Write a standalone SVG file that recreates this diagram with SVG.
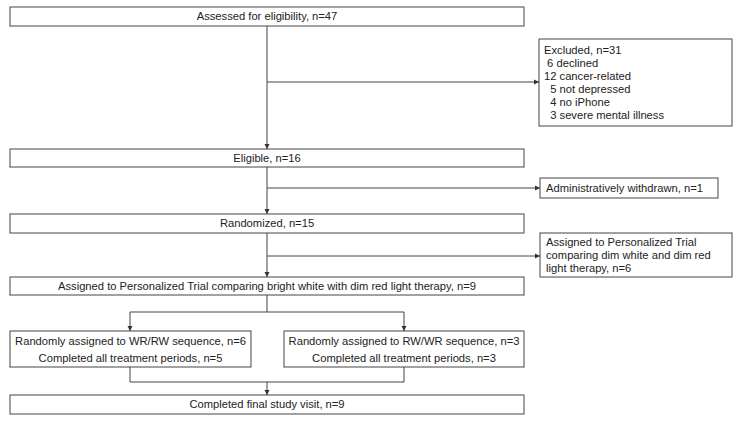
<svg xmlns="http://www.w3.org/2000/svg" width="735" height="423" viewBox="0 0 735 423">
<defs>
<marker id="arr" markerUnits="userSpaceOnUse" markerWidth="6" markerHeight="6" refX="5" refY="3" orient="auto">
<path d="M0,0.5 L5,3 L0,5.5 z" fill="#333"/>
</marker>
<style>
.box{fill:#fff;stroke:#444;stroke-width:1}
.t{font-family:"Liberation Sans",Arial,sans-serif;font-size:11.2px;fill:#222}
.c{text-anchor:middle}
.ln{fill:none;stroke:#444;stroke-width:1}
.a{marker-end:url(#arr)}
</style>
</defs>
<rect width="735" height="423" fill="#fff"/>
<g id="connectors">
<line class="ln a" x1="267" y1="26" x2="267" y2="149"/>
<line class="ln a" x1="267" y1="82" x2="539" y2="82"/>
<line class="ln a" x1="267" y1="167" x2="267" y2="214"/>
<line class="ln a" x1="267" y1="188" x2="540" y2="188"/>
<line class="ln a" x1="267" y1="233" x2="267" y2="277"/>
<line class="ln a" x1="267" y1="256" x2="540" y2="256"/>
<line class="ln" x1="267" y1="295" x2="267" y2="312"/>
<line class="ln" x1="130" y1="312" x2="404" y2="312"/>
<line class="ln a" x1="130" y1="312" x2="130" y2="331"/>
<line class="ln a" x1="404" y1="312" x2="404" y2="331"/>
<line class="ln" x1="130" y1="367" x2="130" y2="382"/>
<line class="ln" x1="404" y1="367" x2="404" y2="382"/>
<line class="ln" x1="130" y1="382" x2="404" y2="382"/>
<line class="ln a" x1="267" y1="382" x2="267" y2="395"/>
</g>
<g id="assessed">
<rect class="box" x="10" y="7" width="514" height="19"/>
<text class="t c" x="267" y="20">Assessed for eligibility, n=47</text>
</g>
<g id="excluded">
<rect class="box" x="539" y="39" width="193" height="87"/>
<text class="t" x="544" y="54">Excluded, n=31</text>
<text class="t" x="544" y="67" xml:space="preserve"> 6 declined</text>
<text class="t" x="544" y="80">12 cancer-related</text>
<text class="t" x="544" y="93" xml:space="preserve">  5 not depressed</text>
<text class="t" x="544" y="106" xml:space="preserve">  4 no iPhone</text>
<text class="t" x="544" y="119" xml:space="preserve">  3 severe mental illness</text>
</g>
<g id="eligible">
<rect class="box" x="10" y="149" width="514" height="18"/>
<text class="t c" x="267" y="162">Eligible, n=16</text>
</g>
<g id="withdrawn">
<rect class="box" x="540" y="178" width="178" height="20"/>
<text class="t" x="546" y="192">Administratively withdrawn, n=1</text>
</g>
<g id="randomized">
<rect class="box" x="10" y="214" width="514" height="19"/>
<text class="t c" x="267" y="227">Randomized, n=15</text>
</g>
<g id="dimwhite">
<rect class="box" x="540" y="233" width="192" height="44"/>
<text class="t" x="546" y="246">Assigned to Personalized Trial</text>
<text class="t" x="546" y="259">comparing dim white and dim red</text>
<text class="t" x="546" y="272">light therapy, n=6</text>
</g>
<g id="brightwhite">
<rect class="box" x="10" y="277" width="514" height="18"/>
<text class="t c" x="267" y="290">Assigned to Personalized Trial comparing bright white with dim red light therapy, n=9</text>
</g>
<g id="wrrw">
<rect class="box" x="10" y="331" width="241" height="36"/>
<text class="t c" x="130.5" y="345">Randomly assigned to WR/RW sequence, n=6</text>
<text class="t c" x="130.5" y="362">Completed all treatment periods, n=5</text>
</g>
<g id="rwwr">
<rect class="box" x="284" y="331" width="240" height="36"/>
<text class="t c" x="404" y="345">Randomly assigned to RW/WR sequence, n=3</text>
<text class="t c" x="404" y="362">Completed all treatment periods, n=3</text>
</g>
<g id="final">
<rect class="box" x="10" y="395" width="514" height="19"/>
<text class="t c" x="267" y="408">Completed final study visit, n=9</text>
</g>
</svg>
